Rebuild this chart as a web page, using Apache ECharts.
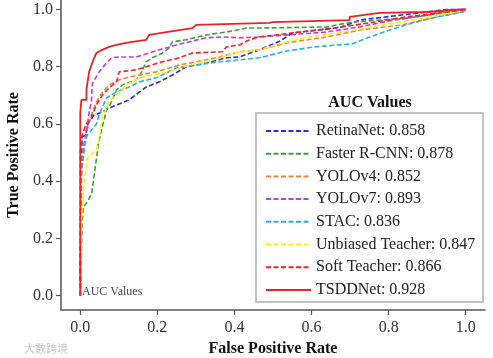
<!DOCTYPE html>
<html>
<head>
<meta charset="utf-8">
<script src="https://cdn.jsdelivr.net/npm/echarts@6/dist/echarts.min.js"></script>
<style>html,body{margin:0;padding:0;background:#fff;}#c{width:493px;height:358px;}</style>
</head>
<body>
<div id="c"></div>
<script>
const tickValues = [0, 0.2, 0.4, 0.6, 0.8, 1.0];
const names = ["RetinaNet: 0.858","Faster R-CNN: 0.878","YOLOv4: 0.852","YOLOv7: 0.893","STAC: 0.836","Unbiased Teacher: 0.847","Soft Teacher: 0.866","TSDDNet: 0.928"];
const colors = ["#2b2be6","#3f9f3f","#f0843c","#c13af0","#26b0ec","#fff200","#f02424","#e82323"];

const retinaX = [0,0.002,0.005,0.013,0.02,0.035,0.057,0.083,0.127,0.171,0.205,0.239,0.275,0.327,0.379,0.413,0.465,0.517,0.551,0.673,0.725,0.899,0.951,1.0];
const retinaY = [0,0.45,0.555,0.56,0.6,0.63,0.642,0.66,0.684,0.729,0.747,0.771,0.8,0.813,0.831,0.834,0.859,0.889,0.918,0.936,0.963,0.991,1.0,1.0];

const frcnnX = [0,0.005,0.008,0.02,0.03,0.036,0.042,0.047,0.055,0.062,0.068,0.075,0.083,0.094,0.109,0.145,0.158,0.171,0.187,0.213,0.231,0.239,0.275,0.327,0.379,0.431,0.465,0.639,0.706,0.777,0.85,0.95,1.0];
const frcnnY = [0,0.26,0.31,0.33,0.36,0.42,0.48,0.53,0.58,0.614,0.65,0.66,0.684,0.719,0.736,0.754,0.778,0.817,0.831,0.848,0.866,0.887,0.894,0.911,0.921,0.935,0.935,0.939,0.956,0.963,0.97,0.99,1.0];

const yolo4X = [0,0.003,0.01,0.018,0.031,0.042,0.057,0.075,0.101,0.127,0.153,0.197,0.257,0.301,0.361,0.413,0.465,0.535,0.639,0.725,0.836,0.925,0.992,1.0];
const yolo4Y = [0,0.42,0.5,0.58,0.64,0.677,0.71,0.736,0.754,0.764,0.771,0.782,0.806,0.817,0.834,0.852,0.859,0.883,0.904,0.928,0.946,0.974,0.991,1.0];

const yolo7X = [0,0.003,0.01,0.018,0.023,0.029,0.031,0.049,0.068,0.081,0.101,0.145,0.179,0.205,0.231,0.249,0.283,0.327,0.369,0.413,0.465,0.535,0.639,0.725,0.8,0.9,0.95,1.0];
const yolo7Y = [0,0.45,0.53,0.59,0.64,0.68,0.74,0.782,0.813,0.831,0.834,0.834,0.848,0.859,0.869,0.876,0.887,0.901,0.904,0.901,0.904,0.911,0.921,0.939,0.96,0.98,0.998,1.0];

const stacX = [0,0.003,0.008,0.018,0.03,0.042,0.049,0.068,0.094,0.127,0.153,0.197,0.223,0.249,0.301,0.361,0.413,0.465,0.535,0.613,0.706,0.751,0.803,0.862,0.925,0.992,1.0];
const stacY = [0,0.45,0.52,0.56,0.58,0.6,0.632,0.691,0.712,0.729,0.747,0.761,0.778,0.796,0.806,0.817,0.824,0.831,0.855,0.87,0.88,0.904,0.928,0.953,0.974,0.991,1.0];

const ubtX = [0,0.003,0.01,0.018,0.042,0.049,0.057,0.075,0.101,0.119,0.153,0.187,0.231,0.283,0.327,0.369,0.413,0.465,0.517,0.595,0.681,0.758,0.85,0.95,1.0];
const ubtY = [0,0.265,0.4,0.48,0.51,0.55,0.62,0.68,0.71,0.736,0.761,0.771,0.782,0.806,0.817,0.834,0.852,0.859,0.88,0.904,0.921,0.939,0.96,0.985,1.0];

const softX = [0,0,0.005,0.015,0.026,0.042,0.057,0.075,0.094,0.101,0.145,0.171,0.213,0.257,0.291,0.369,0.379,0.413,0.439,0.465,0.551,0.655,0.751,0.85,0.95,1.0];
const softY = [0,0.5,0.56,0.6,0.614,0.667,0.7,0.726,0.747,0.782,0.789,0.8,0.817,0.831,0.848,0.852,0.869,0.876,0.894,0.904,0.918,0.935,0.953,0.975,0.99,1.0];

const tsddX = [0,0,0.003,0.016,0.016,0.021,0.023,0.031,0.036,0.042,0.057,0.075,0.094,0.119,0.135,0.171,0.179,0.223,0.257,0.291,0.301,0.49,0.499,0.699,0.699,0.777,0.899,0.992,1.0];
const tsddY = [0,0.64,0.684,0.684,0.72,0.72,0.782,0.813,0.831,0.848,0.859,0.869,0.876,0.883,0.887,0.894,0.911,0.921,0.928,0.935,0.946,0.953,0.956,0.963,0.974,0.988,0.991,1.0,1.0];

const allX = [retinaX, frcnnX, yolo4X, yolo7X, stacX, ubtX, softX, tsddX];
const allY = [retinaY, frcnnY, yolo4Y, yolo7Y, stacY, ubtY, softY, tsddY];

const serif = "'Liberation Serif', 'DejaVu Serif', serif";
const series = names.map((n, i) => ({
  name: n,
  type: 'line',
  data: allX[i].map((x, k) => [x, allY[i][k]]),
  symbol: 'none',
  showSymbol: false,
  legendIcon: 'path://M0,0Z',
  animation: false,
  lineStyle: {
    color: colors[i],
    width: i === 7 ? 1.8 : 1.6,
    type: i === 7 ? 'solid' : [5, 2.5]
  },
  itemStyle: { color: colors[i] },
  z: i === 7 ? 4 : 3
}));

const chart = echarts.init(document.getElementById('c'), null, { renderer: 'canvas' });
chart.setOption({
  animation: false,
  backgroundColor: '#fff',
  grid: { left: 61, right: 8, top: 0, bottom: 48, containLabel: false, outerBoundsMode: 'none' },
  xAxis: {
    type: 'value', min: -0.05, max: 1.05,
    name: 'False Positive Rate', nameLocation: 'middle', nameGap: 30,
    nameTextStyle: { fontFamily: serif, fontWeight: 'bold', fontSize: 16, color: '#111' },
    axisLine: { onZero: false, lineStyle: { color: '#555', width: 1.5 } },
    axisTick: { show: true, length: 5, customValues: tickValues, lineStyle: { color: '#555', width: 1.2 } },
    axisLabel: { customValues: tickValues, formatter: v => v.toFixed(1), fontFamily: serif, fontSize: 16, color: '#333', margin: 10 },
    splitLine: { show: false }
  },
  yAxis: {
    type: 'value', min: -0.05, max: 1.033,
    name: 'True Positive Rate', nameLocation: 'middle', nameGap: 26,
    nameTextStyle: { fontFamily: serif, fontWeight: 'bold', fontSize: 16, color: '#111' },
    axisLine: { show: true, onZero: false, lineStyle: { color: '#555', width: 1.5 } },
    axisTick: { show: true, length: 5, customValues: tickValues, lineStyle: { color: '#555', width: 1.2 } },
    axisLabel: { customValues: tickValues, formatter: v => v.toFixed(1), fontFamily: serif, fontSize: 16, color: '#333', margin: 8 },
    splitLine: { show: false }
  },
  legend: {
    orient: 'vertical', left: 265, top: 123, padding: 0,
    itemWidth: 45, itemHeight: 16, itemGap: 6.7,
    data: names,
    itemStyle: { opacity: 0 },
    textStyle: { fontFamily: serif, fontSize: 16, color: '#222' },
    selectedMode: false, z: 10
  },
  graphic: [
    { type: 'rect', shape: { x: 256, y: 113, width: 227, height: 189 }, style: { fill: '#fff', stroke: '#c4c4c4', lineWidth: 2 }, z: 5 },
    { type: 'text', x: 370, y: 103, style: { text: 'AUC Values', font: "bold 16px 'Liberation Serif'", fill: '#111', align: 'center', verticalAlign: 'middle' }, z: 6 },
    { type: 'text', x: 82, y: 292, style: { text: 'AUC Values', font: "12px 'Liberation Serif'", fill: '#444', align: 'left', verticalAlign: 'middle' }, z: 6 },
    { type: 'text', x: 24, y: 349, style: { text: '大数跨境', font: "11px 'Noto Sans CJK SC'", fill: '#c8c8c8', align: 'left', verticalAlign: 'middle' }, z: 6 }
  ],
  series: series
});
</script>
</body>
</html>
